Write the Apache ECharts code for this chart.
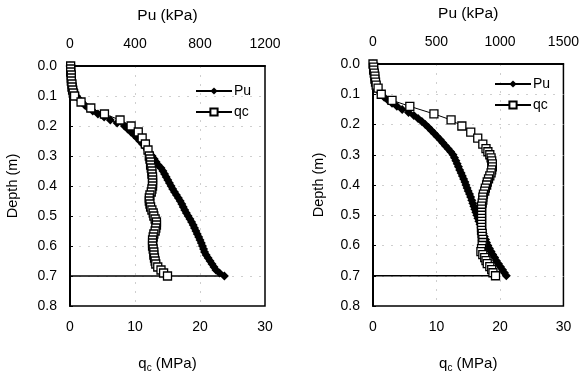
<!DOCTYPE html>
<html>
<head>
<meta charset="utf-8">
<script src="https://cdn.jsdelivr.net/npm/echarts@6/dist/echarts.min.js"></script>
<style>
  html, body { margin: 0; padding: 0; background: #fff; }
  #chart { width: 582px; height: 378px; }
</style>
</head>
<body>
<div id="chart"></div>
<script>
// --- data ---
// left test: Pu (kPa) every 0.01 m
const leftPuDepth = [0.00,0.01,0.02,0.03,0.04,0.05,0.06,0.07,0.08,0.09,0.10,0.11,0.12,0.13,0.14,0.15,0.16,0.17,0.18,0.19,0.20,0.21,0.22,0.23,0.24,0.25,0.26,0.27,0.28,0.29,0.30,0.31,0.32,0.33,0.34,0.35,0.36,0.37,0.38,0.39,0.40,0.41,0.42,0.43,0.44,0.45,0.46,0.47,0.48,0.49,0.50,0.51,0.52,0.53,0.54,0.55,0.56,0.57,0.58,0.59,0.60,0.61,0.62,0.63,0.64,0.65,0.66,0.67,0.68,0.69,0.70];
const leftPu = [0,2,4,6,9,12,16,20,26,32,40,55,72,90,111,140,172,210,248,290,335,355,375,395,413,430,447,462,477,491,505,518,530,542,560,572,582,592,602,612,622,632,643,655,667,678,688,697,706,716,727,738,748,758,766,775,783,792,800,808,815,822,828,838,850,862,874,886,898,920,950];
// left test: qc (MPa)
const leftQcDepth = [0.00,0.01,0.02,0.03,0.04,0.05,0.06,0.07,0.08,0.09,0.10,0.12,0.14,0.16,0.18,0.20,0.22,0.24,0.26,0.28,0.30,0.31,0.32,0.33,0.34,0.35,0.36,0.37,0.38,0.39,0.40,0.41,0.42,0.43,0.44,0.45,0.46,0.47,0.48,0.49,0.50,0.51,0.52,0.53,0.54,0.55,0.56,0.57,0.58,0.59,0.60,0.61,0.62,0.63,0.64,0.65,0.66,0.67,0.68,0.69,0.70];
const leftQc = [0.1,0.1,0.1,0.2,0.2,0.2,0.3,0.3,0.4,0.5,0.7,1.7,3.2,5.3,7.7,9.4,10.5,11.1,11.6,12.0,12.2,12.3,12.4,12.4,12.5,12.6,12.6,12.7,12.7,12.7,12.7,12.6,12.5,12.3,12.2,12.2,12.3,12.4,12.6,12.8,12.9,13.1,13.3,13.3,13.2,13.1,12.9,12.8,12.7,12.7,12.7,12.8,12.9,12.9,13.0,13.1,13.2,13.5,14.0,14.4,15.0];

// right test: Pu (kPa) every 0.01 m
const rightPuDepth = leftPuDepth;
const rightPu = [0,2,4,7,10,14,19,26,35,46,62,88,118,150,188,230,280,322,355,385,412,437,460,483,505,530,550,570,592,612,630,642,653,663,673,683,694,704,714,724,732,741,750,760,769,778,786,794,802,810,818,826,834,843,851,860,868,877,886,894,905,917,930,943,958,972,988,1004,1020,1035,1050];
// right test: qc (MPa)
const rightQcDepth = [0.00,0.01,0.02,0.03,0.04,0.05,0.06,0.07,0.08,0.10,0.12,0.14,0.165,0.185,0.205,0.225,0.245,0.265,0.28,0.29,0.30,0.31,0.32,0.33,0.34,0.35,0.36,0.37,0.38,0.39,0.40,0.41,0.42,0.43,0.44,0.45,0.46,0.47,0.48,0.49,0.50,0.51,0.52,0.53,0.54,0.55,0.56,0.57,0.58,0.59,0.60,0.61,0.62,0.63,0.64,0.65,0.66,0.67,0.68,0.69,0.70];
const rightQc = [0.0,0.1,0.1,0.2,0.3,0.3,0.4,0.5,0.8,1.3,3.0,5.8,9.6,12.3,14.0,15.4,16.5,17.3,17.8,18.1,18.4,18.6,18.7,18.8,18.8,18.7,18.6,18.4,18.2,18.0,17.9,17.7,17.6,17.4,17.3,17.3,17.2,17.1,17.1,17.1,17.1,17.1,17.1,17.1,17.1,17.1,17.2,17.2,17.3,17.3,17.2,17.1,17.0,17.3,17.6,17.8,18.0,18.4,18.7,18.9,19.3];

// probe tip depth line (depth, end in MPa) for each test
const tipDepth = 0.7;
const tipLineEnd = [24, 18.5];

// axis ranges / ticks
const depthMax = 0.8;
const qcMax = 30;
const puMax = [1200, 1500];
const puStep = [400, 500];

const FONT = "'Liberation Sans', Arial, sans-serif";

function pairs(xs, ys) {
  return xs.map((x, i) => [x, ys[i]]);
}

const grids = [
  { left: 70, top: 66, width: 195, height: 241 },
  { left: 373, top: 64, width: 193, height: 248 },
];

const gridDash = { color: '#cfcfcf', type: [2, 7], width: 1 };

const xAxes = [];
const yAxes = [];
grids.forEach((g, i) => {
  xAxes.push({
    gridIndex: i, type: 'value', position: 'bottom',
    min: 0, max: qcMax, interval: 10,
    name: '{a|q}{s|c}{a| (MPa)}', nameLocation: 'middle', nameGap: 48,
    nameTextStyle: {
      rich: {
        a: { fontFamily: FONT, fontSize: 15, color: '#000' },
        s: { fontFamily: FONT, fontSize: 10, color: '#000', padding: [9, 0, 0, 0] },
      },
    },
    axisLine: { show: true, lineStyle: { color: '#000', width: 1.5 } },
    axisTick: { show: false },
    axisLabel: { fontFamily: FONT, fontSize: 14, color: '#000', margin: 14 },
    splitLine: { show: true, showMinLine: false, showMaxLine: false, lineStyle: gridDash },
  });
  xAxes.push({
    gridIndex: i, type: 'value', position: 'top',
    min: 0, max: puMax[i], interval: puStep[i],
    name: 'Pu (kPa)', nameLocation: 'middle', nameGap: 42,
    nameTextStyle: { fontFamily: FONT, fontSize: 15.5, color: '#000' },
    axisLine: { show: true, lineStyle: { color: '#000', width: 1.5 } },
    axisTick: { show: false },
    axisLabel: { fontFamily: FONT, fontSize: 14, color: '#000', margin: 15, formatter: v => String(v) },
    splitLine: { show: false },
  });
  yAxes.push({
    gridIndex: i, type: 'value', inverse: true,
    min: 0, max: depthMax, interval: 0.1,
    name: 'Depth (m)', nameLocation: 'middle', nameGap: i === 0 ? 50 : 47,
    nameTextStyle: { fontFamily: FONT, fontSize: 14.5, color: '#000' },
    axisLine: { show: true, lineStyle: { color: '#000', width: 2 } },
    axisTick: { show: true, inside: true, length: 3, lineStyle: { color: '#000' } },
    axisLabel: { fontFamily: FONT, fontSize: 14, color: '#000', margin: 13, formatter: v => v.toFixed(1) },
    splitLine: { show: true, showMinLine: false, showMaxLine: false, lineStyle: gridDash },
  });
});

const tests = [
  { pu: pairs(leftPu, leftPuDepth), qc: pairs(leftQc, leftQcDepth) },
  { pu: pairs(rightPu, rightPuDepth), qc: pairs(rightQc, rightQcDepth) },
];

const series = [];
tests.forEach((t, i) => {
  series.push({
    name: 'tip', type: 'line', xAxisIndex: i * 2, yAxisIndex: i,
    data: [[0, tipDepth], [tipLineEnd[i], tipDepth]],
    showSymbol: false, silent: true,
    lineStyle: { color: '#000', width: 1.5 },
  });
  series.push({
    name: 'Pu', type: 'line', xAxisIndex: i * 2 + 1, yAxisIndex: i,
    data: t.pu, symbol: 'diamond', symbolSize: 9,
    itemStyle: { color: '#000' },
    lineStyle: { color: '#000', width: 1 },
  });
  series.push({
    name: 'qc', type: 'line', xAxisIndex: i * 2, yAxisIndex: i,
    data: t.qc, symbol: 'rect', symbolSize: 8,
    itemStyle: { color: '#fff', borderColor: '#000', borderWidth: 1.3 },
    lineStyle: { color: '#000', width: 1 },
  });
});

const legendBase = {
  data: ['Pu', 'qc'], orient: 'vertical',
  itemWidth: 36, itemHeight: 9, itemGap: 7,
  textStyle: { fontFamily: FONT, fontSize: 14, color: '#000', padding: [0, 0, 0, -3] },
};

const chart = echarts.init(document.getElementById('chart'));
chart.setOption({
  animation: false,
  backgroundColor: '#fff',
  grid: grids.map(g => Object.assign({ show: true, borderColor: '#000', borderWidth: 1.5 }, g)),
  xAxis: xAxes,
  yAxis: yAxes,
  legend: [
    Object.assign({ left: 190, top: 79 }, legendBase),
    Object.assign({ left: 489, top: 72 }, legendBase),
  ],
  series: series,
});
</script>
</body>
</html>
